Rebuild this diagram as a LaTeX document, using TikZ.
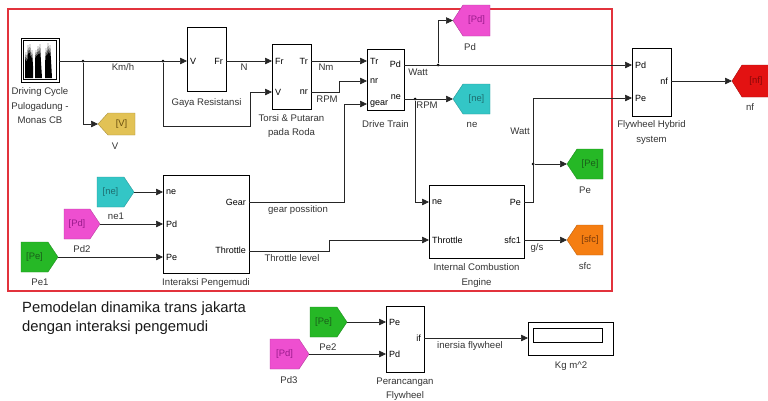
\documentclass[tikz,border=0pt]{standalone}
\usepackage{fontspec}
\setsansfont{Liberation Sans}
\usetikzlibrary{arrows.meta}
\definecolor{frame}{HTML}{E2323C}
\definecolor{gmag}{HTML}{EE4FD0}
\definecolor{gcyan}{HTML}{33C6C6}
\definecolor{ggreen}{HTML}{26B826}
\definecolor{gorange}{HTML}{F57E12}
\definecolor{gred}{HTML}{E31212}
\definecolor{gyel}{HTML}{E2C255}
\definecolor{tmag}{HTML}{9A1A8C}
\definecolor{tcyan}{HTML}{1E6E70}
\definecolor{tgreen}{HTML}{1A5E1A}
\definecolor{torange}{HTML}{7A3A0A}
\definecolor{tred}{HTML}{8A0808}
\definecolor{tyel}{HTML}{6A5010}
\newcommand{\gotoL}[8]{%
  \path[fill=#6, draw=#6!75!black, line width=0.4pt] (#2,{(#3+#5)/2}) -- ({#2+10},#3) -- (#4,#3) -- (#4,#5) -- ({#2+10},#5) -- cycle;
  \node[gtxt, text=#7] (#1) at ({(#2+10+#4)/2},{(#3+#5)/2}) {#8};
  \coordinate (#1-in) at (#2,{(#3+#5)/2});}
\newcommand{\fromR}[8]{%
  \path[fill=#6, draw=#6!75!black, line width=0.4pt] (#2,#3) -- ({#4-10},#3) -- (#4,{(#3+#5)/2}) -- ({#4-10},#5) -- (#2,#5) -- cycle;
  \node[gtxt, text=#7] (#1) at ({(#2+#4-10)/2},{(#3+#5)/2}) {#8};
  \coordinate (#1-out) at (#4,{(#3+#5)/2});}
\begin{document}
\begin{tikzpicture}[x=1pt,y=-1pt,
  blk/.style={draw=black, line width=0.6pt, fill=white, inner sep=0pt},
  lab/.style={font=\sffamily\fontsize{9.6}{14.5}\selectfont, text=black!80, inner sep=0pt, align=center},
  prt/.style={font=\sffamily\fontsize{9}{9}\selectfont, inner sep=0pt},
  gtxt/.style={font=\sffamily\fontsize{9.4}{10}\selectfont, inner sep=0pt},
  wire/.style={line width=0.6pt, draw=black!85},
  arr/.style={wire, -{Triangle[length=7pt,width=6.5pt]}},
  jdot/.style={circle, fill=black, inner sep=0pt, minimum size=3pt}]
\useasboundingbox (0,0) rectangle (768,400);
% frame
\draw[frame, line width=2.4pt] (8,9) rectangle (612,291);

% blocks
\node[blk, minimum width=38pt, minimum height=44pt] (drv) at (40,60) {};
\draw[line width=0.5pt] (23.5,40.5) rectangle (56.5,79.5);
\fill[black] (25,78) -- (25,62) -- (26,52) -- (27,64) -- (28,45) -- (29,56) -- (30,44) -- (31,60) -- (32,50) -- (33,66) -- (33,78) -- cycle;
\fill[black] (35,78) -- (35,60) -- (36,50) -- (37,58) -- (38,46) -- (39,57) -- (40,44) -- (41,62) -- (42,78) -- cycle;
\fill[black] (45,78) -- (45,64) -- (46,48) -- (47,58) -- (48,43) -- (49,56) -- (50,45) -- (51,60) -- (52,78) -- cycle;
\node[blk, minimum width=39pt, minimum height=64pt] (gaya) at (206.5,59) {};
\node[blk, minimum width=39pt, minimum height=65pt] (torsi) at (291.5,76.5) {};
\node[blk, minimum width=37pt, minimum height=61pt] (dt) at (385.5,79.5) {};
\node[blk, minimum width=86pt, minimum height=98pt] (ia) at (206,224) {};
\node[blk, minimum width=95pt, minimum height=73pt] (ice) at (476.5,221.5) {};
\node[blk, minimum width=39pt, minimum height=68pt] (fly) at (651.5,82) {};
\node[blk, minimum width=38pt, minimum height=66pt] (pf) at (405,339) {};
\node[blk, minimum width=85pt, minimum height=33pt] (disp) at (570.5,338.5) {};
\draw[line width=0.6pt] (533,328) rectangle (602,342);

% block labels
\node[lab] (drvl) at (40,106) {Driving Cycle\\Pulogadung -\\Monas CB};
\node[lab] (gayal) at (206.5,103) {Gaya Resistansi};
\node[lab] (torsil) at (291.5,126) {Torsi \& Putaran\\pada Roda};
\node[lab] (dtl) at (385.5,124) {Drive Train};
\node[lab] (ial) at (206,283) {Interaksi Pengemudi};
\node[lab] (icel) at (476.5,275.5) {Internal Combustion\\Engine};
\node[lab] (flyl) at (651.5,132.5) {Flywheel Hybrid\\system};
\node[lab] (pfl) at (405,389) {Perancangan\\Flywheel};
\node[lab] (displ) at (571,366) {Kg m\^{}2};

% ports
\coordinate (drv-out) at (59,61);
\coordinate (gaya-V) at (187,61);   \node[prt,anchor=west] (pgV) at (190,61) {V};
\coordinate (gaya-Fr) at (226,61);  \node[prt,anchor=east] (pgFr) at (223,61) {Fr};
\coordinate (torsi-Fr) at (272,61); \node[prt,anchor=west] (ptFr) at (275,61) {Fr};
\coordinate (torsi-V) at (272,92);  \node[prt,anchor=west] (ptV) at (275,92) {V};
\coordinate (torsi-Tr) at (311,61); \node[prt,anchor=east] (ptTr) at (308,61) {Tr};
\coordinate (torsi-nr) at (311,92); \node[prt,anchor=east] (ptnr) at (308,92) {nr};
\coordinate (dt-Tr) at (367,61);    \node[prt,anchor=west] (pdTr) at (370,61) {Tr};
\coordinate (dt-nr) at (367,81);    \node[prt,anchor=west] (pdnr) at (370,81) {nr};
\coordinate (dt-gear) at (367,104); \node[prt,anchor=west] (pdgear) at (370,104) {gear};
\coordinate (dt-Pd) at (404,65);    \node[prt,anchor=east] (pdPd) at (401,64) {Pd};
\coordinate (dt-ne) at (404,99);    \node[prt,anchor=east] (pdne) at (401,97) {ne};
\coordinate (ia-ne) at (163,192);   \node[prt,anchor=west] (pine) at (166,192) {ne};
\coordinate (ia-Pd) at (163,224);   \node[prt,anchor=west] (piPd) at (166,224) {Pd};
\coordinate (ia-Pe) at (163,257);   \node[prt,anchor=west] (piPe) at (166,257) {Pe};
\coordinate (ia-Gear) at (249,202); \node[prt,anchor=east] (piGear) at (246,202) {Gear};
\coordinate (ia-Thr) at (249,251);  \node[prt,anchor=east] (piThr) at (246,250) {Throttle};
\coordinate (ice-ne) at (429,202);  \node[prt,anchor=west] (pcne) at (432,202) {ne};
\coordinate (ice-Thr) at (429,240); \node[prt,anchor=west] (pcThr) at (432,240) {Throttle};
\coordinate (ice-Pe) at (524,202);  \node[prt,anchor=east] (pcPe) at (521,202) {Pe};
\coordinate (ice-sfc) at (524,240); \node[prt,anchor=east] (pcsfc) at (521,240) {sfc1};
\coordinate (fly-Pd) at (632,65);   \node[prt,anchor=west] (pfPd) at (635,65) {Pd};
\coordinate (fly-Pe) at (632,98);   \node[prt,anchor=west] (pfPe) at (635,98) {Pe};
\coordinate (fly-nf) at (671,81);   \node[prt,anchor=east] (pfnf) at (668,81) {nf};
\coordinate (pf-Pe) at (386,322);   \node[prt,anchor=west] (ppPe) at (389,322) {Pe};
\coordinate (pf-Pd) at (386,354);   \node[prt,anchor=west] (ppPd) at (389,354) {Pd};
\coordinate (pf-if) at (424,338);   \node[prt,anchor=east] (ppif) at (421,338) {if};
\coordinate (disp-in) at (528,338);

% goto / from tags
\gotoL{gV}{98}{113}{135}{135}{gyel}{tyel}{[V]}
\gotoL{gPd}{453}{5}{490}{36}{gmag}{tmag}{[Pd]}
\gotoL{gne}{453}{84}{490}{114}{gcyan}{tcyan}{[ne]}
\gotoL{gPe}{567}{149}{603}{179}{ggreen}{tgreen}{[Pe]}
\gotoL{gsfc}{567}{225}{603}{255}{gorange}{torange}{[sfc]}
\gotoL{gnf}{732}{65}{770}{97}{gred}{tred}{[nf]}
\fromR{fne1}{97}{177}{134}{207}{gcyan}{tcyan}{[ne]}
\fromR{fPd2}{64}{209}{100}{239}{gmag}{tmag}{[Pd]}
\fromR{fPe1}{21}{242}{58}{272}{ggreen}{tgreen}{[Pe]}
\fromR{fPe2}{310}{307}{347}{337}{ggreen}{tgreen}{[Pe]}
\fromR{fPd3}{270}{339}{309}{369}{gmag}{tmag}{[Pd]}
\node[lab] (lV) at (115,146) {V};
\node[lab] (lPd) at (470,47) {Pd};
\node[lab] (lne) at (472,125) {ne};
\node[lab] (lPe) at (585,190) {Pe};
\node[lab] (lsfc) at (585,266) {sfc};
\node[lab] (lnf) at (750,107) {nf};
\node[lab] (lne1) at (116,216) {ne1};
\node[lab] (lPd2) at (82,249) {Pd2};
\node[lab] (lPe1) at (40,282) {Pe1};
\node[lab] (lPe2) at (328,347) {Pe2};
\node[lab] (lPd3) at (289,380) {Pd3};

% junctions
\node[jdot] (J1) at (83,61) {};
\node[jdot] (J2) at (163,61) {};
\node[jdot] (J3) at (438,65) {};
\node[jdot] (J4) at (415,99) {};
\node[jdot] (J5) at (533,164) {};

% wires
\draw[arr] (drv-out) -- (gaya-V);
\draw[arr] (J1) |- (gV-in);
\draw[arr] (J2) -- (163,126) -- (250,126) -- (250,92) -- (torsi-V);
\draw[arr] (gaya-Fr) -- (torsi-Fr);
\draw[arr] (torsi-Tr) -- (dt-Tr);
\draw[arr] (torsi-nr) -- (339,92) -- (339,81) -- (dt-nr);
\draw[arr] (ia-Gear) -- (344,202) -- (344,104) -- (dt-gear);
\draw[arr] (dt-Pd) -- (fly-Pd);
\draw[arr] (J3) |- (gPd-in);
\draw[arr] (dt-ne) -- (gne-in);
\draw[arr] (J4) |- (ice-ne);
\draw[arr] (ia-Thr) -- (329,251) -- (329,240) -- (ice-Thr);
\draw[arr] (ice-Pe) -- (533,202) -- (533,98) -- (fly-Pe);
\draw[arr] (J5) -- (gPe-in);
\draw[arr] (ice-sfc) -- (gsfc-in);
\draw[arr] (fly-nf) -- (gnf-in);
\draw[arr] (fne1-out) -- (ia-ne);
\draw[arr] (fPd2-out) -- (ia-Pd);
\draw[arr] (fPe1-out) -- (ia-Pe);
\draw[arr] (fPe2-out) -- (pf-Pe);
\draw[arr] (fPd3-out) -- (pf-Pd);
\draw[arr] (pf-if) -- (disp-in);

% wire labels
\node[lab] (wKmh) at (123,67) {Km/h};
\node[lab] (wN) at (244,67) {N};
\node[lab] (wNm) at (326,67) {Nm};
\node[lab] (wRPM1) at (327,99) {RPM};
\node[lab] (wWatt1) at (418,72) {Watt};
\node[lab] (wRPM2) at (427,105) {RPM};
\node[lab] (wWatt2) at (520,131) {Watt};
\node[lab] (wgear) at (298,210) {gear possition};
\node[lab] (wthr) at (292,258) {Throttle level};
\node[lab] (wgs) at (537,248) {g/s};
\node[lab] (wif) at (470,346) {inersia flywheel};

% caption
\node[font=\sffamily\fontsize{14.8}{18.5}\selectfont, anchor=north west, align=left, inner sep=0pt, text=black!90] (cap) at (22,302) {Pemodelan dinamika trans jakarta\\dengan interaksi pengemudi};
\end{tikzpicture}
\end{document}
